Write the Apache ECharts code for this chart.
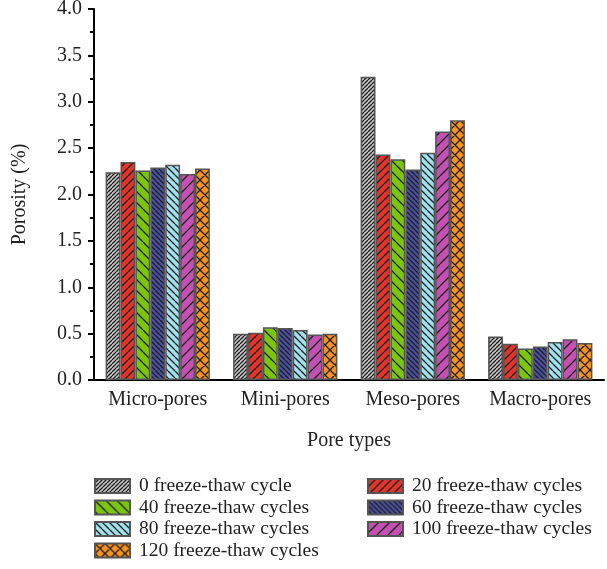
<!DOCTYPE html>
<html>
<head>
<meta charset="utf-8">
<script src="https://cdn.jsdelivr.net/npm/echarts@6/dist/echarts.min.js"></script>
<style>
  html, body { margin: 0; padding: 0; background: #fff; }
  #chart { width: 607px; height: 569px; }
</style>
</head>
<body>
<div id="chart"></div>
<script>
// Pore categories and porosity (%) for each freeze-thaw stage
const poreTypes = ['Micro-pores', 'Mini-pores', 'Meso-pores', 'Macro-pores'];
const seriesNames = [
  '0 freeze-thaw cycle', '20 freeze-thaw cycles', '40 freeze-thaw cycles',
  '60 freeze-thaw cycles', '80 freeze-thaw cycles', '100 freeze-thaw cycles',
  '120 freeze-thaw cycles'
];
const cycles0   = [2.24, 0.50, 3.27, 0.47];
const cycles20  = [2.35, 0.51, 2.43, 0.39];
const cycles40  = [2.26, 0.57, 2.38, 0.34];
const cycles60  = [2.29, 0.56, 2.27, 0.36];
const cycles80  = [2.32, 0.54, 2.45, 0.41];
const cycles100 = [2.22, 0.49, 2.68, 0.44];
const cycles120 = [2.28, 0.50, 2.80, 0.40];
const seriesValues = [cycles0, cycles20, cycles40, cycles60, cycles80, cycles100, cycles120];

// Fill styles: base colour + hatch direction + spacing
const fills = [
  { bg: '#c9c9c9', dir: '/', step: 4 },
  { bg: '#e2342a', dir: '/', step: 8 },
  { bg: '#7cc50e', dir: '\\', step: 11 },
  { bg: '#4b50a0', dir: '\\', step: 5 },
  { bg: '#9fe1ee', dir: '\\', step: 7 },
  { bg: '#c451b1', dir: '/', step: 11 },
  { bg: '#f7931e', dir: 'x', step: 10 }
];

function hatch(f) {
  const s = f.step;
  const c = document.createElement('canvas');
  c.width = s; c.height = s;
  const g = c.getContext('2d');
  g.fillStyle = f.bg;
  g.fillRect(0, 0, s, s);
  g.strokeStyle = '#1e1e1e';
  g.lineWidth = 1.3;
  g.beginPath();
  for (let k = -1; k <= 1; k++) {
    if (f.dir === '/' || f.dir === 'x') {
      g.moveTo(k * s, s); g.lineTo(k * s + s, 0);
    }
    if (f.dir === '\\' || f.dir === 'x') {
      g.moveTo(k * s, 0); g.lineTo(k * s + s, s);
    }
  }
  g.stroke();
  return { image: c, repeat: 'repeat' };
}

const serif = 'Liberation Serif';
const chart = echarts.init(document.getElementById('chart'), null, { renderer: 'canvas' });

const series = seriesNames.map((name, i) => ({
  name: name,
  type: 'bar',
  data: seriesValues[i],
  barWidth: 14.9,
  barGap: '0%',
  itemStyle: {
    color: hatch(fills[i]),
    borderColor: '#555555',
    borderWidth: 1.5
  }
}));

const legendBase = {
  orient: 'vertical',
  padding: 0,
  height: 100,
  itemWidth: 35,
  itemHeight: 14,
  itemGap: 1.5,
  icon: 'rect',
  selectedMode: false,
  textStyle: { fontFamily: serif, fontSize: 19.5, color: '#222', lineHeight: 20, padding: [0, 0, 0, 4] }
};

chart.setOption({
  animation: false,
  backgroundColor: '#fff',
  grid: { left: 94, right: 3, top: 9, bottom: 189, containLabel: false, outerBoundsMode: 'none' },
  legend: [
    Object.assign({}, legendBase, {
      left: 94, top: 476,
      data: [seriesNames[0], seriesNames[2], seriesNames[4], seriesNames[6]]
    }),
    Object.assign({}, legendBase, {
      left: 367, top: 476,
      data: [seriesNames[1], seriesNames[3], seriesNames[5]]
    })
  ],
  xAxis: {
    type: 'category',
    data: poreTypes,
    name: 'Pore types',
    nameLocation: 'middle',
    nameGap: 51,
    nameTextStyle: { fontFamily: serif, fontSize: 20, color: '#222' },
    axisLine: { lineStyle: { color: '#000', width: 2 } },
    axisTick: { show: false },
    axisLabel: { interval: 0, fontFamily: serif, fontSize: 20, color: '#222', margin: 10 }
  },
  yAxis: {
    type: 'value',
    min: 0, max: 4, interval: 0.5,
    name: 'Porosity (%)',
    nameLocation: 'middle',
    nameGap: 64,
    nameTextStyle: { fontFamily: serif, fontSize: 20, color: '#222' },
    axisLine: { show: true, lineStyle: { color: '#000', width: 2 } },
    axisTick: { show: true, length: 6, lineStyle: { color: '#000', width: 2 } },
    minorTick: { show: true, splitNumber: 2, length: 4, lineStyle: { color: '#000', width: 2 } },
    splitLine: { show: false },
    axisLabel: {
      fontFamily: serif, fontSize: 20, color: '#222', margin: 12,
      formatter: v => v.toFixed(1)
    }
  },
  series: series
});
</script>
</body>
</html>
